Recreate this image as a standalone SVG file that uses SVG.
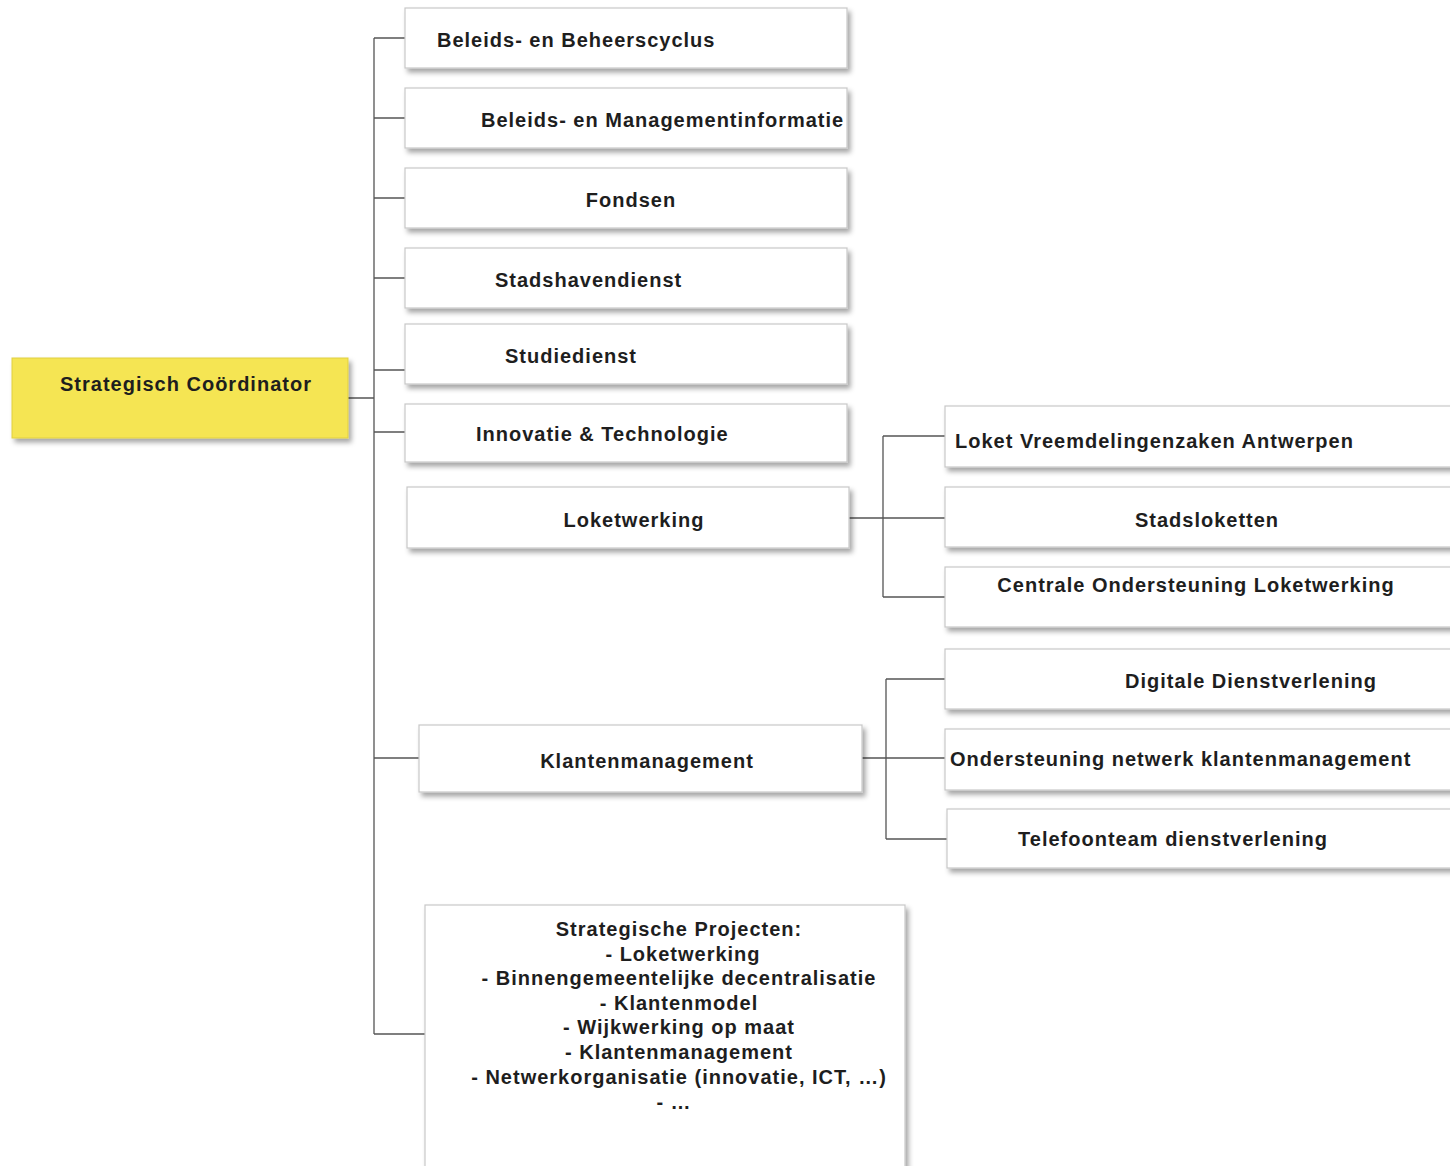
<svg xmlns="http://www.w3.org/2000/svg" width="1450" height="1166" viewBox="0 0 1450 1166">
<defs>
<filter id="sh" x="-5%" y="-20%" width="115%" height="150%">
<feDropShadow dx="3" dy="4" stdDeviation="2.5" flood-color="#000" flood-opacity="0.35"/>
</filter>
<style>
.box{fill:#fff;stroke:#c8c8c8;stroke-width:1.2;filter:url(#sh)}
.root{fill:#f5e552;stroke:#e0cf40;stroke-width:1;filter:url(#sh)}
.t{font-family:"Liberation Sans",Arial,sans-serif;font-weight:bold;font-size:20px;letter-spacing:1px;fill:#1e1e1e}
.c{text-anchor:middle}
.ln{fill:none;stroke:#555;stroke-width:1.3}
</style>
</defs>
<rect width="1450" height="1166" fill="#fff"/>
<g id="connectors">
<path class="ln" d="M348 398H374M374 38V1034M374 38H405M374 118H405M374 198H405M374 278H405M374 370H405M374 432H405M374 758H419M374 1034H425"/>
<path class="ln" d="M849 518H883M883 436V597M883 436H945M883 518H945M883 597H945"/>
<path class="ln" d="M862 758H886M886 679V839M886 679H945M886 758H945M886 839H947"/>
</g>
<g id="n-root"><rect class="root" x="12" y="358" width="336" height="80"/><text class="t" x="60" y="391">Strategisch Coördinator</text></g>
<g id="n-bbc"><rect class="box" x="405" y="8" width="442" height="60"/><text class="t" x="437" y="47">Beleids- en Beheerscyclus</text></g>
<g id="n-bmi"><rect class="box" x="405" y="88" width="442" height="60"/><text class="t" x="481" y="127">Beleids- en Managementinformatie</text></g>
<g id="n-fon"><rect class="box" x="405" y="168" width="442" height="60"/><text class="t c" x="631" y="207">Fondsen</text></g>
<g id="n-shd"><rect class="box" x="405" y="248" width="442" height="60"/><text class="t" x="495" y="287">Stadshavendienst</text></g>
<g id="n-sd"><rect class="box" x="405" y="324" width="442" height="60"/><text class="t" x="505" y="363">Studiedienst</text></g>
<g id="n-it"><rect class="box" x="405" y="404" width="442" height="58"/><text class="t" x="476" y="441">Innovatie &amp; Technologie</text></g>
<g id="n-lw"><rect class="box" x="407" y="487" width="442" height="61"/><text class="t c" x="634" y="527">Loketwerking</text></g>
<g id="n-km"><rect class="box" x="419" y="725" width="443" height="67"/><text class="t c" x="647" y="768">Klantenmanagement</text></g>
<g id="n-sp"><rect class="box" x="425" y="905" width="480" height="262"/>
<text class="t c" x="679" y="936">Strategische Projecten:</text>
<text class="t c" x="683" y="961">- Loketwerking</text>
<text class="t c" x="679" y="985">- Binnengemeentelijke decentralisatie</text>
<text class="t c" x="679" y="1010">- Klantenmodel</text>
<text class="t c" x="679" y="1034">- Wijkwerking op maat</text>
<text class="t c" x="679" y="1059">- Klantenmanagement</text>
<text class="t c" x="679" y="1084">- Netwerkorganisatie (innovatie, ICT, …)</text>
<text class="t c" x="674" y="1109">- …</text>
</g>
<g id="n-lva"><rect class="box" x="945" y="406" width="510" height="61"/><text class="t" x="955" y="448">Loket Vreemdelingenzaken Antwerpen</text></g>
<g id="n-sl"><rect class="box" x="945" y="487" width="510" height="60"/><text class="t c" x="1207" y="527">Stadsloketten</text></g>
<g id="n-col"><rect class="box" x="945" y="567" width="510" height="60"/><text class="t c" x="1196" y="592">Centrale Ondersteuning Loketwerking</text></g>
<g id="n-dd"><rect class="box" x="945" y="649" width="510" height="60"/><text class="t c" x="1251" y="688">Digitale Dienstverlening</text></g>
<g id="n-onk"><rect class="box" x="945" y="729" width="510" height="61"/><text class="t" x="950" y="766">Ondersteuning netwerk klantenmanagement</text></g>
<g id="n-td"><rect class="box" x="947" y="809" width="510" height="59"/><text class="t c" x="1173" y="846">Telefoonteam dienstverlening</text></g>
</svg>
